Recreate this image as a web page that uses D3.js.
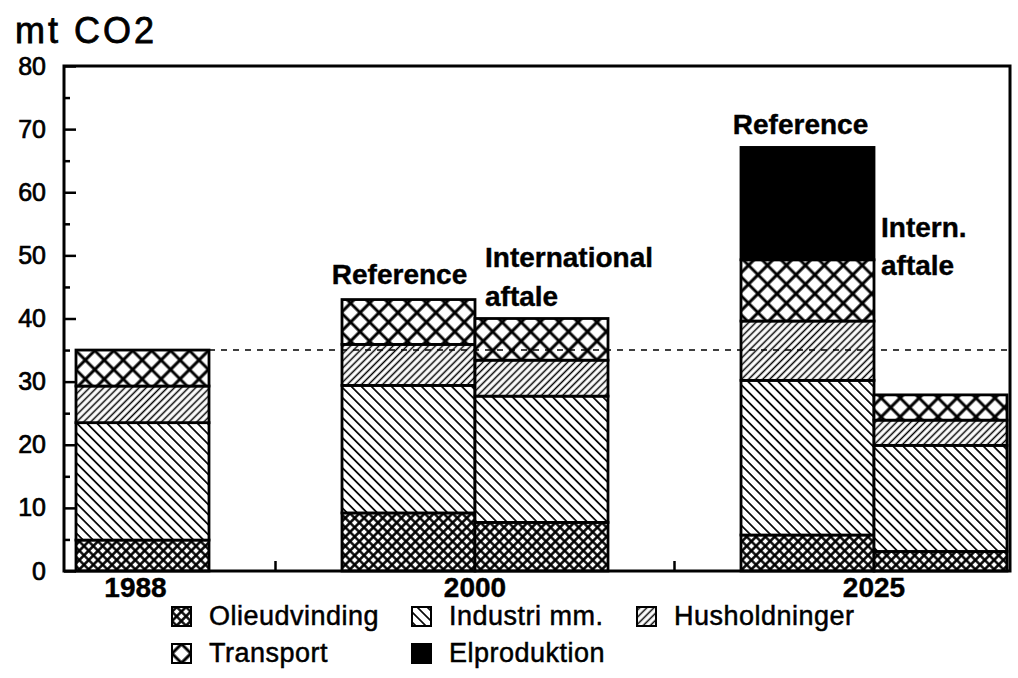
<!DOCTYPE html>
<html lang="da">
<head>
  <meta charset="UTF-8">
  <title>mt CO2</title>
  <script src="https://d3js.org/d3.v7.min.js"></script>
  <style>
    body {
      margin: 0;
      background: #fff;
      overflow: hidden;
    }
    svg {
      font-family: "Liberation Sans", Arial, Helvetica, sans-serif;
    }
    .tick text {
      font-size: 25px;
      fill: #000;
      stroke: #000;
      stroke-width: 0.7px;
    }
    .label {
      font-size: 28px;
      font-weight: bold;
      stroke: #000;
      stroke-width: 0.4px;
    }
    .legend text {
      font-size: 27px;
      letter-spacing: 0.5px;
      stroke: #000;
      stroke-width: 0.5px;
    }
  </style>
</head>
<body>
  <svg id="chart"></svg>

  <script>
    // slots on the x axis, the empty ones are spacing between the years
    const slots = ["1988", "gap1", "2000 Reference", "2000 International", "gap2", "2025 Reference", "2025 Intern"];
    const bars = ["1988", "2000 Reference", "2000 International", "2025 Reference", "2025 Intern"];
    const years = ["1988", "2000", "2025"];
    const yearBars = [["1988"], ["2000 Reference", "2000 International"], ["2025 Reference", "2025 Intern"]];

    const series = ["Olieudvinding", "Industri mm.", "Husholdninger", "Transport", "Elproduktion"];
    const olieudvinding = [4.9, 9.2, 7.7, 5.7, 3.1];
    const industri = [18.6, 20.2, 20.0, 24.5, 16.8];
    const husholdninger = [5.8, 6.5, 5.7, 9.4, 4.0];
    const transport = [5.7, 7.1, 6.6, 9.7, 4.0];
    const elproduktion = [0, 0, 0, 17.8, 0];

    const yTicks = [0, 10, 20, 30, 40, 50, 60, 70, 80];
    const yMinorTicks = [5, 15, 25, 35, 45, 55, 65, 75];
    const level1988 = 35;

    const width = 1018;
    const height = 678;
    const plotLeft = 64, plotRight = 1010, plotTop = 66, plotBottom = 571;

    const svg = d3.select("#chart")
      .attr("width", width)
      .attr("height", height);

    // hatch patterns
    const defs = svg.append("defs");

    function lines(id, p, w, angle) {
      const pat = defs.append("pattern")
        .attr("id", id)
        .attr("patternUnits", "userSpaceOnUse")
        .attr("width", p).attr("height", p)
        .attr("patternTransform", `rotate(${angle})`);
      pat.append("rect").attr("width", p).attr("height", p).attr("fill", "#fff");
      pat.append("line")
        .attr("x1", p / 2).attr("x2", p / 2).attr("y1", -1).attr("y2", p + 1)
        .attr("stroke", "#000").attr("stroke-width", w);
    }

    function cross(id, p, w) {
      const pat = defs.append("pattern")
        .attr("id", id)
        .attr("patternUnits", "userSpaceOnUse")
        .attr("width", p).attr("height", p)
        .attr("patternTransform", "rotate(45)");
      pat.append("rect").attr("width", p).attr("height", p).attr("fill", "#fff");
      pat.append("path")
        .attr("d", `M${p / 2},-1V${p + 1}M-1,${p / 2}H${p + 1}`)
        .attr("stroke", "#000").attr("stroke-width", w);
    }

    cross("p-olie", 6.6, 2.5);
    lines("p-industri", 7.1, 1.7, -45);
    lines("p-hus", 5.0, 1.5, 45);
    cross("p-transport", 13.4, 3);

    const fills = {
      "Olieudvinding": "url(#p-olie)",
      "Industri mm.": "url(#p-industri)",
      "Husholdninger": "url(#p-hus)",
      "Transport": "url(#p-transport)",
      "Elproduktion": "#000"
    };

    // scales
    const x = d3.scaleBand()
      .domain(slots)
      .range([76, 1007])
      .padding(0);

    const y = d3.scaleLinear()
      .domain([0, 80])
      .range([plotBottom, plotTop]);

    // stacked data
    const values = [olieudvinding, industri, husholdninger, transport, elproduktion];
    const table = bars.map((b, i) => {
      const row = { bar: b };
      series.forEach((s, j) => { row[s] = values[j][i]; });
      return row;
    });
    const stacked = d3.stack().keys(series)(table);

    svg.append("g")
      .selectAll("g")
      .data(stacked)
      .join("g")
      .attr("fill", d => fills[d.key])
      .selectAll("rect")
      .data(d => d.filter(v => v[1] - v[0] > 0))
      .join("rect")
      .attr("x", d => x(d.data.bar))
      .attr("width", x.bandwidth())
      .attr("y", d => y(d[1]))
      .attr("height", d => y(d[0]) - y(d[1]))
      .attr("stroke", "#000")
      .attr("stroke-width", 2.8);

    // dashed 1988 level
    svg.append("line")
      .attr("x1", x("1988") + x.bandwidth())
      .attr("x2", plotRight)
      .attr("y1", y(level1988))
      .attr("y2", y(level1988))
      .attr("stroke", "#000")
      .attr("stroke-width", 1.6)
      .attr("stroke-dasharray", "6,6");

    // frame
    svg.append("rect")
      .attr("x", plotLeft).attr("y", plotTop)
      .attr("width", plotRight - plotLeft).attr("height", plotBottom - plotTop)
      .attr("fill", "none")
      .attr("stroke", "#000")
      .attr("stroke-width", 3);

    // y axis, ticks pointing in
    const yAxis = svg.append("g")
      .attr("transform", `translate(${plotLeft},0)`)
      .call(d3.axisLeft(y).tickValues(yTicks).tickSizeInner(-12).tickSizeOuter(0).tickPadding(18));
    yAxis.select(".domain").remove();
    yAxis.selectAll(".tick line").attr("stroke-width", 2.5);

    const yMinor = svg.append("g")
      .attr("transform", `translate(${plotLeft},0)`)
      .call(d3.axisLeft(y).tickValues(yMinorTicks).tickSizeInner(-6).tickSizeOuter(0).tickFormat(""));
    yMinor.select(".domain").remove();
    yMinor.selectAll(".tick line").attr("stroke-width", 2.5);

    // x axis ticks between the years
    const xAxis = svg.append("g")
      .attr("transform", `translate(0,${plotBottom})`)
      .call(d3.axisBottom(x).tickValues(["gap1", "gap2"]).tickSizeInner(-10).tickSizeOuter(0).tickFormat(""));
    xAxis.select(".domain").remove();
    xAxis.selectAll(".tick line").attr("stroke-width", 2.5);

    // year labels
    svg.append("g")
      .selectAll("text")
      .data(years)
      .join("text")
      .attr("class", "label")
      .attr("text-anchor", "middle")
      .attr("x", (d, i) => {
        const b = yearBars[i];
        const mid = (x(b[0]) + x(b[b.length - 1]) + x.bandwidth()) / 2;
        return b.length === 1 ? mid - 7 : mid;
      })
      .attr("y", 597)
      .text(d => d);

    // scenario labels
    const total = i => values.reduce((s, v) => s + v[i], 0);

    svg.append("text").attr("class", "label")
      .attr("text-anchor", "middle")
      .attr("x", x("2000 Reference") + x.bandwidth() / 2 - 9)
      .attr("y", y(total(1)) - 16)
      .text("Reference");

    svg.append("text").attr("class", "label")
      .attr("text-anchor", "middle")
      .attr("x", x("2025 Reference") + x.bandwidth() / 2 - 7)
      .attr("y", y(total(3)) - 13)
      .text("Reference");

    const intl = svg.append("text").attr("class", "label")
      .attr("x", x("2000 International") + 10)
      .attr("y", y(48.2));
    intl.append("tspan").text("International");
    intl.append("tspan").attr("x", x("2000 International") + 10).attr("dy", 39).text("aftale");

    const intern = svg.append("text").attr("class", "label")
      .attr("x", x("2025 Intern") + 7)
      .attr("y", y(52.9));
    intern.append("tspan").text("Intern.");
    intern.append("tspan").attr("x", x("2025 Intern") + 7).attr("dy", 38).text("aftale");

    // unit title
    svg.append("text")
      .attr("x", 15)
      .attr("y", 43)
      .attr("font-size", 36)
      .attr("letter-spacing", 3)
      .attr("stroke", "#000")
      .attr("stroke-width", 0.8)
      .text("mt CO2");

    // legend
    const legendPos = [[172, 607], [412, 607], [637, 607], [172, 644], [412, 644]];
    const legend = svg.append("g")
      .attr("class", "legend")
      .selectAll("g")
      .data(series)
      .join("g")
      .attr("transform", (d, i) => `translate(${legendPos[i][0]},${legendPos[i][1]})`);

    legend.append("rect")
      .attr("width", 19)
      .attr("height", 19)
      .attr("fill", d => fills[d])
      .attr("stroke", "#000")
      .attr("stroke-width", 2);

    legend.append("text")
      .attr("x", 37)
      .attr("y", 18)
      .text(d => d);
  </script>
</body>
</html>
